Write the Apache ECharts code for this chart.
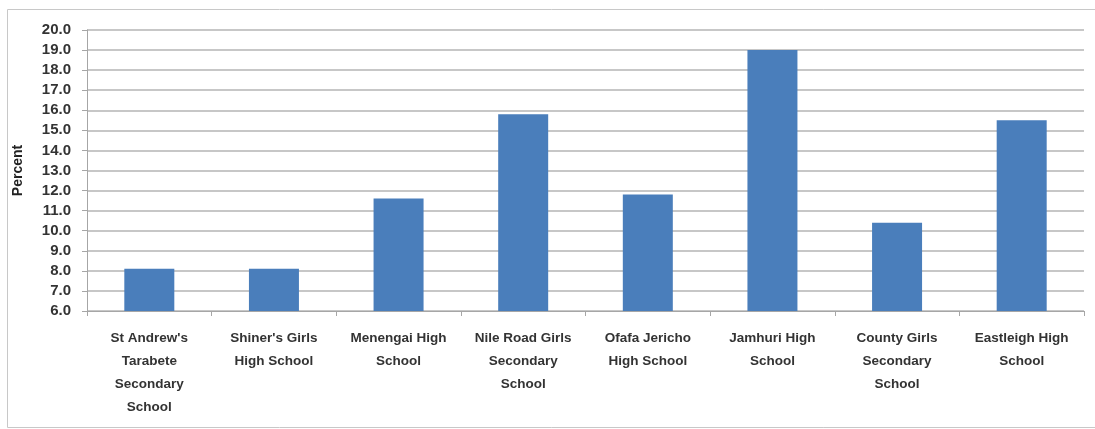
<!DOCTYPE html>
<html>
<head>
<meta charset="utf-8">
<script src="https://cdn.jsdelivr.net/npm/echarts@6/dist/echarts.min.js"></script>
<style>
  html, body { margin: 0; padding: 0; background: #fff; }
  #chart { width: 1095px; height: 429px; }
</style>
</head>
<body>
<div id="chart"></div>
<script>
// schools on the x axis
const schools = [
    "St Andrew's\nTarabete\nSecondary\nSchool",
    "Shiner's Girls\nHigh School",
    'Menengai High\nSchool',
    'Nile Road Girls\nSecondary\nSchool',
    'Ofafa Jericho\nHigh School',
    'Jamhuri High\nSchool',
    'County Girls\nSecondary\nSchool',
    'Eastleigh High\nSchool'
]
// percent per school
const percent = [8.1, 8.1, 11.6, 15.8, 11.8, 19.0, 10.4, 15.5]

const axisMin = 6, axisMax = 20, axisStep = 1

const chart = echarts.init(document.getElementById('chart'))
const labelFont = "'Liberation Sans', Arial, sans-serif"

chart.setOption({
    animation: false,
    graphic: [
        {
            type: 'rect',
            shape: { x: 7.5, y: 9.5, width: 1100, height: 418 },
            style: { fill: 'none', stroke: '#c8c8c8', lineWidth: 1 },
            silent: true
        }
    ],
    grid: { left: 87, right: 11, top: 30, bottom: 118 },
    xAxis: {
        type: 'category',
        data: schools,
        axisLine: { lineStyle: { color: '#a6a6a6', width: 1 } },
        axisTick: { show: true, length: 5, alignWithLabel: false, lineStyle: { color: '#a6a6a6' } },
        axisLabel: {
            interval: 0,
            color: '#333',
            fontFamily: labelFont,
            fontWeight: 'bold',
            fontSize: 13.5,
            lineHeight: 23,
            margin: 16
        }
    },
    yAxis: {
        type: 'value',
        min: axisMin,
        max: axisMax,
        interval: axisStep,
        name: 'Percent',
        nameLocation: 'middle',
        nameGap: 62,
        nameRotate: 90,
        nameTextStyle: { color: '#222', fontFamily: labelFont, fontWeight: 'bold', fontSize: 14 },
        axisLine: { show: true, lineStyle: { color: '#a6a6a6' } },
        axisTick: { show: true, length: 5, lineStyle: { color: '#a6a6a6' } },
        axisLabel: {
            color: '#333',
            fontFamily: labelFont,
            fontWeight: 'bold',
            fontSize: 15,
            margin: 16,
            formatter: v => v.toFixed(1)
        },
        splitLine: { lineStyle: { color: '#b4b4b4', width: 1.5 } }
    },
    series: [
        {
            type: 'bar',
            data: percent,
            barWidth: 50,
            itemStyle: { color: '#4a7ebb' }
        }
    ]
})
</script>
</body>
</html>
